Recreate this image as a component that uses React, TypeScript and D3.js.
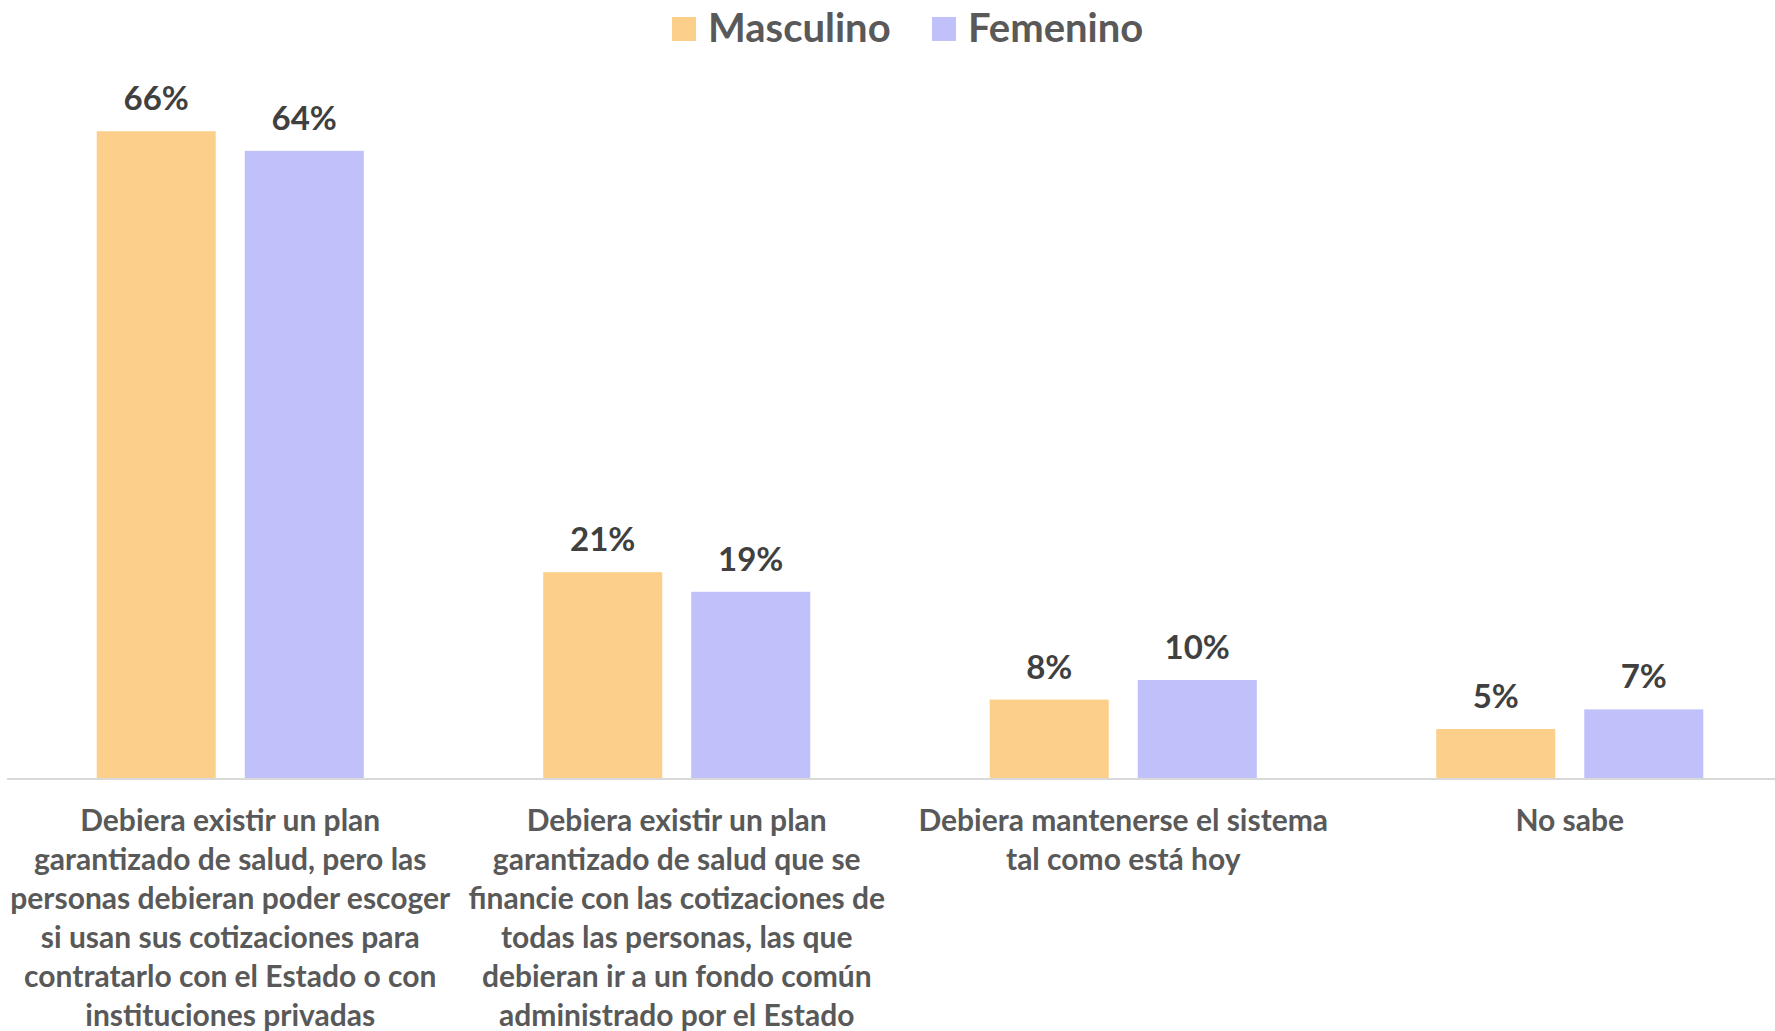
import React, { useRef, useEffect } from 'react';
import * as d3 from 'd3';

const categories = ['plan_escoger', 'plan_fondo', 'mantener', 'no_sabe'];

const categoryLabels = [
  ['Debiera existir un plan', 'garantizado de salud, pero las', 'personas debieran poder escoger', 'si usan sus cotizaciones para', 'contratarlo con el Estado o con', 'instituciones privadas'],
  ['Debiera existir un plan', 'garantizado de salud que se', 'financie con las cotizaciones de', 'todas las personas, las que', 'debieran ir a un fondo común', 'administrado por el Estado'],
  ['Debiera mantenerse el sistema', 'tal como está hoy'],
  ['No sabe'],
];

const seriesNames = ['Masculino', 'Femenino'];
const seriesColors = ['#FCD08B', '#C0C0FA'];

const masculino = [0.66, 0.21, 0.08, 0.05];
const femenino = [0.64, 0.19, 0.10, 0.07];

const W = 1775;
const H = 1031;
const FONT = 'Lato, "Open Sans", sans-serif';

function App() {
  const ref = useRef<SVGSVGElement>(null);

  useEffect(() => {
    document.body.style.margin = '0';
    const svg = d3.select(ref.current);
    svg.selectAll('*').remove();

    const baseY = 778;
    const left = 7;

    const x0 = d3.scaleBand().domain(categories).range([left, left + 4 * 446.5]).paddingInner(0).paddingOuter(0);
    const x1 = d3.scaleBand().domain(seriesNames).range([0, x0.bandwidth()]).paddingInner(0.196).paddingOuter(0.606);
    const y = d3.scaleLinear().domain([0, 0.7]).range([baseY, baseY - 686]);

    const series = [masculino, femenino];
    const rows = categories.map((c, i) => ({ c, i }));

    const groups = svg.append('g')
      .selectAll('g')
      .data(rows)
      .join('g')
      .attr('transform', d => `translate(${x0(d.c)},0)`);

    seriesNames.forEach((name, si) => {
      groups.append('rect')
        .attr('x', x1(name) as number)
        .attr('y', d => y(series[si][d.i]))
        .attr('width', x1.bandwidth())
        .attr('height', d => baseY - y(series[si][d.i]))
        .attr('fill', seriesColors[si]);

      groups.append('text')
        .attr('x', (x1(name) as number) + x1.bandwidth() / 2)
        .attr('y', d => y(series[si][d.i]) - 21)
        .attr('text-anchor', 'middle')
        .attr('font-family', FONT)
        .attr('font-weight', 700)
        .attr('font-size', 33)
        .attr('fill', '#404040')
        .text(d => d3.format('.0%')(series[si][d.i]));
    });

    // axis line
    svg.append('line')
      .attr('x1', left).attr('x2', W)
      .attr('y1', baseY + 1).attr('y2', baseY + 1)
      .attr('stroke', '#D9D9D9')
      .attr('stroke-width', 2);

    // category labels
    groups.append('text')
      .attr('text-anchor', 'middle')
      .attr('font-family', FONT)
      .attr('font-weight', 700)
      .attr('font-size', 30)
      .attr('fill', '#595959')
      .selectAll('tspan')
      .data(d => categoryLabels[d.i])
      .join('tspan')
      .attr('x', x0.bandwidth() / 2)
      .attr('y', (d, i) => 831 + i * 39)
      .text(d => d);

    // legend
    const legend = svg.append('g').attr('font-family', FONT).attr('font-weight', 700).attr('font-size', 40);
    const legendX = [672, 932];
    seriesNames.forEach((name, si) => {
      legend.append('rect')
        .attr('x', legendX[si]).attr('y', 17)
        .attr('width', 24).attr('height', 24)
        .attr('fill', seriesColors[si]);
      legend.append('text')
        .attr('x', legendX[si] + 36).attr('y', 42)
        .attr('fill', '#595959')
        .text(name);
    });
  }, []);

  return <svg ref={ref} width={W} height={H} style={{ display: 'block', background: '#fff' }}></svg>;
}

export default App;
